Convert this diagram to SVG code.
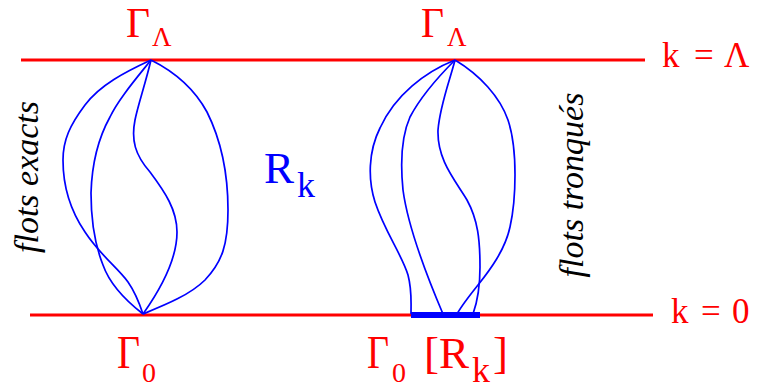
<svg xmlns="http://www.w3.org/2000/svg" width="760" height="390" viewBox="0 0 760 390" font-family="'Liberation Serif', 'DejaVu Serif', serif">
<style>
.lvl{stroke:#ff0000;stroke-width:3.2;fill:none}
.flow{stroke:#0000ff;stroke-width:1.7;fill:none}
.red{fill:#ff0000}
.blue{fill:#0000ff}
.it{fill:#000;font-style:italic;font-size:34px}
</style>
<rect width="760" height="390" fill="#fff"/>
<g id="levels">
<line class="lvl" x1="21" y1="60" x2="645" y2="60"/>
<line class="lvl" x1="30" y1="315" x2="653" y2="315"/>
</g>
<g id="connectors">
<path class="flow" d="M151,60 C125,72 100,85 85,105 C70,125 63,140 63,160 C63,185 70,210 85,232 C100,255 118,268 128,282 C135,292 140,305 143,314"/>
<path class="flow" d="M151,60 C135,80 118,100 110,117 C100,135 92,160 91,193 C91,220 95,245 103,265 C110,285 125,300 143,314"/>
<path class="flow" d="M151,60 C145,85 138,105 135,120 C131,140 135,155 150,172 C165,192 177,210 177,232 C177,260 160,290 143,314"/>
<path class="flow" d="M151,60 C175,72 195,90 207,112 C220,138 228,170 228,210 C228,245 222,262 205,280 C190,295 165,305 143,314"/>
<path class="flow" d="M455,60 C425,72 395,95 380,128 C368,152 368,180 375,202 C385,232 402,255 408,275 C412,290 411,300 411,314"/>
<path class="flow" d="M455,60 C440,75 420,98 410,117 C402,135 400,160 403,190 C407,220 420,260 443,314"/>
<path class="flow" d="M455,60 C450,80 440,105 438,130 C437,160 455,180 467,200 C478,220 480,240 480,267 C480,285 478,300 473,314"/>
<path class="flow" d="M455,60 C480,75 500,97 508,120 C518,150 516,200 510,227 C505,250 490,270 478,285 C470,295 462,305 457,314"/>
<rect x="411" y="312" width="69" height="6" fill="#0000ff"/>
</g>
<g id="gammaLambdaLeft" class="red">
<text x="126" y="37" font-size="42" textLength="24" lengthAdjust="spacingAndGlyphs">Γ</text>
<text x="152" y="46" font-size="27">Λ</text>
</g>
<g id="gammaLambdaRight" class="red">
<text x="421" y="37" font-size="42" textLength="23" lengthAdjust="spacingAndGlyphs">Γ</text>
<text x="447" y="46" font-size="27">Λ</text>
</g>
<g id="gamma0Left" class="red">
<text x="117" y="368" font-size="46" textLength="23" lengthAdjust="spacingAndGlyphs">Γ</text>
<text x="142" y="382" font-size="28">0</text>
</g>
<g id="gamma0Rk" class="red">
<text x="367" y="368" font-size="46" textLength="22" lengthAdjust="spacingAndGlyphs">Γ</text>
<text x="392" y="382" font-size="28">0</text>
<text x="424" y="368" font-size="45">[R</text>
<text x="472" y="382" font-size="36">k</text>
<text x="493" y="368" font-size="45">]</text>
</g>
<g id="kLambda" class="red" font-size="35">
<text x="662" y="67">k</text>
<text x="694" y="67">=</text>
<text x="724" y="67">Λ</text>
</g>
<g id="k0" class="red" font-size="35">
<text x="671" y="323">k</text>
<text x="701" y="323">=</text>
<text x="732" y="323">0</text>
</g>
<g id="Rk" class="blue">
<text x="264" y="183" font-size="45">R</text>
<text x="297" y="197" font-size="36">k</text>
</g>
<g id="flotsExacts">
<text class="it" transform="translate(38,177) rotate(-90)" text-anchor="middle">flots exacts</text>
</g>
<g id="flotsTronques">
<text class="it" transform="translate(583,185) rotate(-90)" text-anchor="middle">flots tronqués</text>
</g>
</svg>
